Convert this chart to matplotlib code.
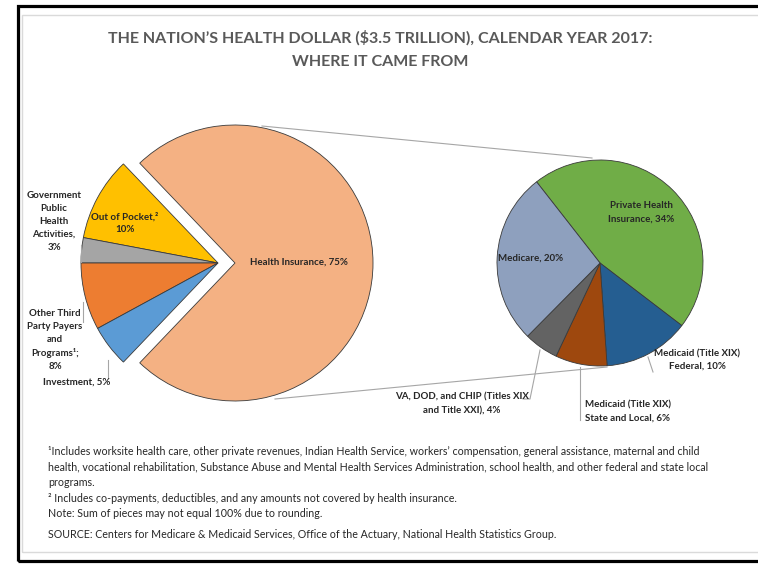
import matplotlib.pyplot as plt
from matplotlib.patches import Rectangle

plt.rcParams['font.family'] = ['Lato', 'DejaVu Sans']

# left pie: where the money came from
source_labels = ['Health Insurance, 75%', 'Out of Pocket,\u00b2\n10%',
                 'Government\nPublic\nHealth\nActivities,\n3%',
                 'Other Third\nParty Payers\nand\nPrograms\u00b9;\n8%',
                 'Investment, 5%']
source_values = [75, 10, 3, 8, 5]
source_colors = ['#F4B183', '#FFC000', '#A5A5A5', '#ED7D31', '#5B9BD5']

# right pie: breakdown of health insurance
insurance_labels = ['Private Health\nInsurance, 34%', 'Medicaid (Title XIX)\nFederal, 10%',
                    'Medicaid (Title XIX)\nState and Local, 6%',
                    'VA, DOD, and CHIP (Titles XIX\nand Title XXI), 4%', 'Medicare, 20%']
insurance_values = [34, 10, 6, 4, 20]
insurance_colors = ['#70AD47', '#255E91', '#9E480E', '#636363', '#8EA0BE']

title = "THE NATION\u2019S HEALTH DOLLAR ($3.5 TRILLION), CALENDAR YEAR 2017:\nWHERE IT CAME FROM"
notes = ("\u00b9Includes worksite health care, other private revenues, Indian Health Service, workers\u2019 compensation, general assistance, maternal and child\n"
         "health, vocational rehabilitation, Substance Abuse and Mental Health Services Administration, school health, and other federal and state local\n"
         "programs.\n"
         "\u00b2 Includes co-payments, deductibles, and any amounts not covered by health insurance.\n"
         "Note: Sum of pieces may not equal 100% due to rounding.")
source = "SOURCE: Centers for Medicare & Medicaid Services, Office of the Actuary, National Health Statistics Group."

W, H = 758, 564


def Y(y):
    return H - y


fig = plt.figure(figsize=(W / 100, H / 100), dpi=100)
ax = fig.add_axes([0, 0, 1, 1])

edge = dict(edgecolor='#3A3A3A', linewidth=0.6)
total = sum(source_values)
start = 180 + 180 * (total - source_values[0]) / total

# health insurance slice stays put, the rest is pulled out to the left
w1, _ = ax.pie(source_values, colors=source_colors, startangle=start, radius=138,
               center=(235, Y(263)), wedgeprops=edge, frame=True)
w2, _ = ax.pie(source_values, colors=source_colors, startangle=start, radius=137,
               center=(218, Y(263)), wedgeprops=edge, frame=True)
for w in w1[1:]:
    w.set_visible(False)
w2[0].set_visible(False)

ax.pie(insurance_values, colors=insurance_colors, startangle=128, counterclock=False,
       radius=103, center=(600, Y(263)), wedgeprops=edge, frame=True)

# connector lines between the pies
ax.plot([262, 592], [Y(126), Y(158)], color='#A6A6A6', lw=0.8)
ax.plot([275, 607], [Y(399), Y(367)], color='#A6A6A6', lw=0.8)

# label leader lines
lead = dict(color='#A6A6A6', lw=0.8)
ax.plot([81, 81], [Y(245), Y(262)], **lead)
ax.plot([83, 83], [Y(302), Y(322)], **lead)
ax.plot([108, 108], [Y(360), Y(378)], **lead)
ax.plot([523, 530, 540], [Y(399), Y(399), Y(350)], **lead)
ax.plot([580, 580], [Y(367), Y(420)], **lead)
ax.plot([648, 653], [Y(357), Y(372)], **lead)

lab = dict(fontsize=7, fontweight='bold', color='#262626', ha='center', va='center')
ax.text(299, Y(262), source_labels[0], **lab)
ax.text(125, Y(223), source_labels[1], linespacing=1.5, **lab)
ax.text(54, Y(221.5), source_labels[2], linespacing=1.56, **lab)
ax.text(55, Y(340), source_labels[3], linespacing=1.52, **lab)
ax.text(77, Y(382), source_labels[4], **lab)

ax.text(641, Y(212.5), insurance_labels[0], linespacing=1.7, **lab)
ax.text(697, Y(360), insurance_labels[1], linespacing=1.5, **lab)
ax.text(585, Y(411.5), insurance_labels[2], linespacing=1.55, multialignment='left',
        **{**lab, 'ha': 'left'})
ax.text(462, Y(404), insurance_labels[3], linespacing=1.6, **lab)
ax.text(531, Y(258), insurance_labels[4], **lab)

ax.text(380, Y(49.5), title, fontsize=11.5, fontweight='bold', color='#595959',
        ha='center', va='center', linespacing=1.9)
ax.text(48, Y(446), notes, fontsize=7.7, color='#262626', ha='left', va='top', linespacing=1.5)
ax.text(48, Y(535), source, fontsize=7.7, color='#262626', ha='left', va='center')

# page frame
ax.add_patch(Rectangle((17.5, Y(561)), 760, 555, fill=False, edgecolor='black', lw=2.3))
ax.add_patch(Rectangle((22, Y(552)), 760, 537, fill=False, edgecolor='#DADADA', lw=1))

ax.set_xlim(0, W)
ax.set_ylim(0, H)
ax.set_aspect('equal')
ax.axis('off')
fig.savefig('out.png', dpi=100)
